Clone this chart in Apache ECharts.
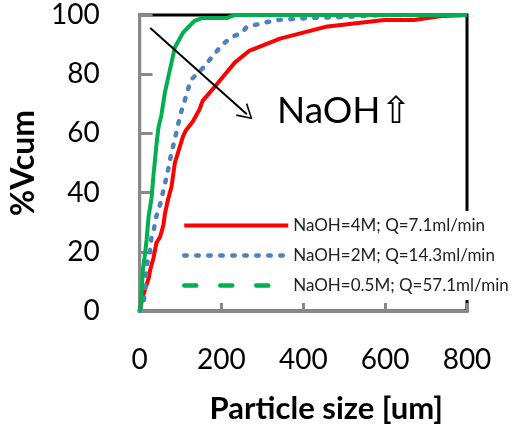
<!DOCTYPE html>
<html>
<head>
<meta charset="utf-8">
<script src="https://cdn.jsdelivr.net/npm/echarts@6/dist/echarts.min.js"></script>
<style>
  html, body { margin: 0; padding: 0; background: #fff; }
  #chart { width: 513px; height: 436px; }
</style>
</head>
<body>
<div id="chart"></div>
<script>
// Cumulative volume distribution (%Vcum) vs particle size [um]
const seriesNames = [
  'NaOH=4M; Q=7.1ml/min',
  'NaOH=2M; Q=14.3ml/min',
  'NaOH=0.5M; Q=57.1ml/min'
];

// [particle size, %Vcum]
const naoh4M = [
  [0, 0], [8, 5], [15, 8], [22, 11], [26, 14], [34, 18], [41, 23], [50, 25],
  [58, 29], [62, 33], [70, 38], [78, 42], [86, 50], [106, 59], [113, 61],
  [130, 64], [146, 68], [154, 71], [185, 76], [209, 80], [233, 84], [269, 88],
  [343, 92], [454, 96], [598, 98.3], [670, 98.3], [742, 99.7], [800, 100]
];
const naoh2M = [
  [0, 0], [10, 3], [14, 8], [17, 15], [26, 21], [29, 25], [34, 27], [41, 32],
  [50, 36], [62, 43], [70, 48], [77, 53], [86, 58], [94, 63], [101, 67],
  [110, 71], [125, 78], [154, 82], [178, 86], [202, 90], [226, 92.6], [250, 94],
  [262, 96], [303, 97.3], [334, 98.3], [416, 99], [495, 99.3], [598, 100], [800, 100]
];
const naoh05M = [
  [0, 0], [3, 2], [8, 14], [12, 18], [17, 24], [22, 32], [29, 38], [34, 46],
  [41, 56], [46, 62], [53, 66], [62, 74], [70, 79], [86, 89], [106, 94],
  [134, 98], [154, 99], [214, 99], [233, 100], [800, 100]
];

// Trend arrow (start and end in data units)
const trendArrow = [[26, 95.6], [262, 66.5]];
const trendLabel = 'NaOH\u21E7';

const xTicks = { min: 0, max: 800, interval: 200 };
const yTicks = { min: 0, max: 100, interval: 20 };

const colors = ['#FF0000', '#4F81BD', '#00B050'];
const axisGray = '#898989';
const font = 'Lato, "DejaVu Sans", sans-serif';

const chart = echarts.init(document.getElementById('chart'), null, { renderer: 'canvas' });

chart.setOption({
  animation: false,
  color: colors,
  grid: {
    left: 134, right: 46, top: 15, bottom: 125,
    show: true, borderColor: '#000', borderWidth: 3, backgroundColor: 'transparent'
  },
  legend: {
    orient: 'vertical',
    left: 176, top: 211,
    backgroundColor: '#fff',
    padding: [6, 4, 6, 6],
    itemWidth: 104, itemHeight: 2, itemGap: 13,
    itemStyle: { opacity: 0 },
    textStyle: { fontFamily: font, fontSize: 17, color: '#222' },
    data: [
      { name: seriesNames[0], lineStyle: { type: 'solid', width: 4 } },
      { name: seriesNames[1], lineStyle: { type: [2.5, 9.5], width: 4.5, cap: 'round' } },
      { name: seriesNames[2], lineStyle: { type: [12, 24], width: 4.5, cap: 'round' } }
    ]
  },
  xAxis: {
    type: 'value',
    min: xTicks.min, max: xTicks.max, interval: xTicks.interval,
    name: 'Particle size [um]',
    nameLocation: 'middle',
    nameGap: 82,
    nameTextStyle: { fontFamily: font, fontSize: 31, fontWeight: 'bold', color: '#000', padding: [0, 0, 0, 46] },
    axisLine: { lineStyle: { color: axisGray, width: 3 } },
    axisTick: { inside: true, length: 8, lineStyle: { color: axisGray, width: 3 } },
    axisLabel: { margin: 35, fontFamily: font, fontSize: 28, color: '#000' },
    splitLine: { show: false }
  },
  yAxis: {
    type: 'value',
    min: yTicks.min, max: yTicks.max, interval: yTicks.interval,
    name: '%Vcum',
    nameLocation: 'middle',
    nameGap: 94,
    nameTextStyle: { fontFamily: font, fontSize: 32, fontWeight: 'bold', color: '#000' },
    axisLine: { lineStyle: { color: axisGray, width: 3 } },
    axisTick: { inside: true, length: 13, lineStyle: { color: axisGray, width: 3 } },
    axisLabel: { margin: 40, fontFamily: font, fontSize: 28, color: '#000' },
    splitLine: { show: false }
  },
  series: [
    {
      name: seriesNames[0], type: 'line', data: naoh4M,
      symbol: 'none', lineStyle: { width: 4, color: colors[0] },
      markLine: {
        silent: true,
        symbol: ['none', 'path://M0,20 L10,0 L20,20 L18.2,21 L10,4 L1.8,21 Z'],
        symbolSize: [17, 15],
        label: { show: false },
        lineStyle: { color: '#000', width: 2, type: 'solid' },
        emphasis: { disabled: true },
        data: [[{ coord: trendArrow[0] }, { coord: trendArrow[1] }]]
      }
    },
    {
      name: seriesNames[1], type: 'line', data: naoh2M,
      symbol: 'none', lineStyle: { width: 4.5, color: colors[1], type: [2.5, 9.5], cap: 'round' }
    },
    {
      name: seriesNames[2], type: 'line', data: naoh05M,
      symbol: 'none', lineStyle: { width: 4, color: colors[2] }
    }
  ],
  graphic: [
    {
      type: 'text', left: 277, top: 93, z: 10,
      style: { text: trendLabel, font: '37px ' + font, fill: '#000' }
    }
  ]
});
</script>
</body>
</html>
